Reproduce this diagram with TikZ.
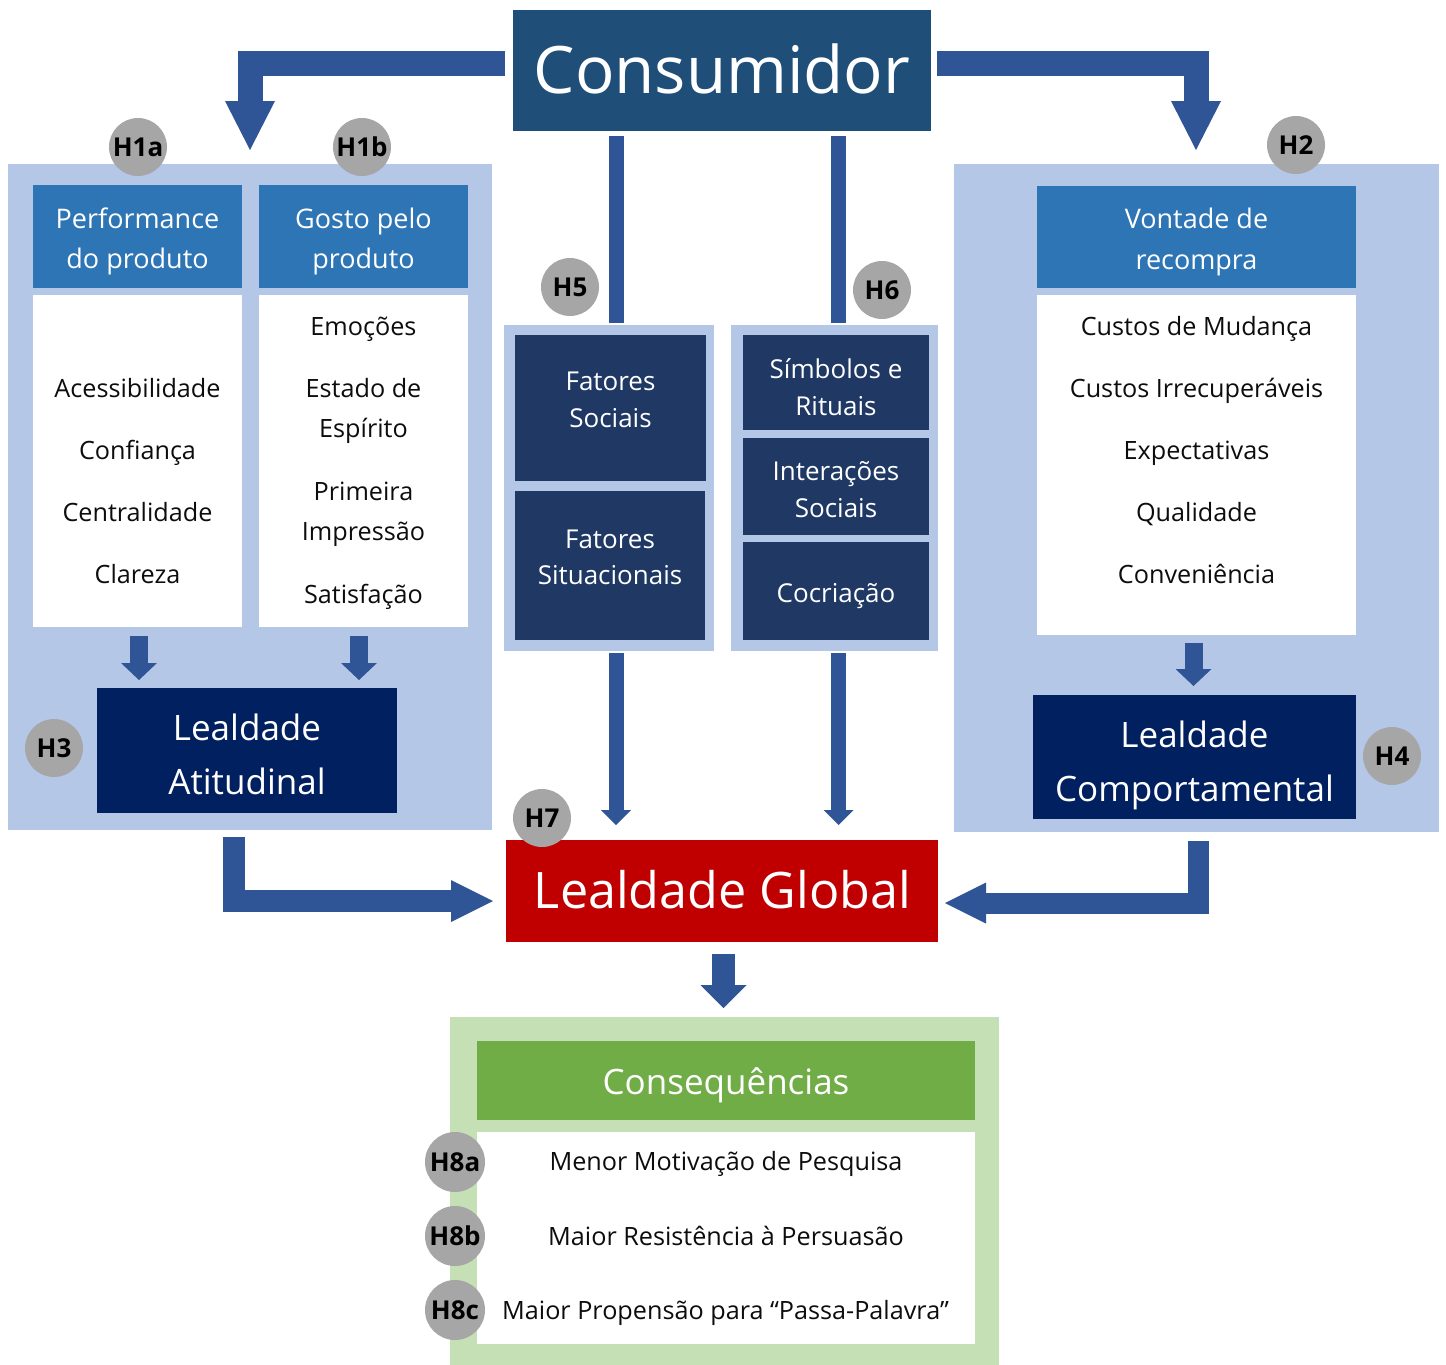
\documentclass[tikz,border=0pt]{standalone}
\usepackage{fontspec}
\setmainfont{Open Sans}
\usetikzlibrary{fit,calc,arrows.meta}
\definecolor{arrowblue}{HTML}{2F5597}
\definecolor{consblue}{HTML}{1F4E79}
\definecolor{panelblue}{HTML}{B4C7E7}
\definecolor{hdrblue}{HTML}{2E75B6}
\definecolor{navy}{HTML}{002060}
\definecolor{midnavy}{HTML}{203864}
\definecolor{loyred}{HTML}{C00000}
\definecolor{hgray}{HTML}{A6A6A6}
\definecolor{hgreen}{HTML}{70AD47}
\definecolor{lgreen}{HTML}{C5E0B4}
\definecolor{txtblack}{HTML}{0D0D0D}
\newcommand\fbody{\fontsize{25.2}{31}\selectfont}
\newcommand\fhdr{\fontsize{27}{33}\selectfont}
\newcommand\fcons{\fontsize{65.5}{80}\selectfont}
\newcommand\fglob{\fontsize{50.3}{60}\selectfont}
\newcommand\flea{\fontsize{35}{44}\selectfont}
\newcommand\fmid{\fontsize{26}{32}\selectfont}
\newcommand\fbot{\fontsize{25.2}{31}\selectfont}
\newcommand\fh{\bfseries\fontsize{26}{26}\selectfont}
\newcommand\bx[6]{\node[rbox, fill=#1, fit={(#3,#4) (#5,#6)}] (#2) {};}
\newcommand\txt[5]{\node[tline, #1] (#2) at (#3,#4) {#5};}
\begin{document}
\begin{tikzpicture}[x=1pt, y=-1pt,
  rbox/.style={inner sep=0pt, outer sep=0pt, draw=none, rectangle},
  tline/.style={anchor=base, inner sep=0pt, outer sep=0pt},
  wt/.style={text=white},
  bt/.style={text=txtblack},
  hc/.style={circle, fill=hgray, minimum size=58pt, inner sep=0pt, text=black, font=\fh},
  bigarr/.style={draw=arrowblue, line width=25pt, line join=miter, -{Triangle[length=49pt, width=50pt, line width=0pt]}},
  barS/.style={draw=arrowblue, line width=15pt},
  midarr/.style={draw=arrowblue, line width=15pt, -{Triangle[length=15pt, width=30pt, line width=0pt]}},
  smallarr/.style={draw=arrowblue, line width=18pt, -{Triangle[length=17pt, width=36pt, line width=0pt]}},
  blarr/.style={draw=arrowblue, line width=22pt, line join=miter, -{Triangle[length=42pt, width=42pt, line width=0pt]}},
  brarr/.style={draw=arrowblue, line width=21pt, line join=miter, -{Triangle[length=41pt, width=41pt, line width=0pt]}},
  downarr/.style={draw=arrowblue, line width=23pt, -{Triangle[length=23pt, width=46pt, line width=0pt]}}
]
\fill[white] (0,0) rectangle (1446,1365);
\useasboundingbox (0,0) rectangle (1446,1365);

% panels
\bx{panelblue}{lp}{8}{164}{492}{830}
\bx{panelblue}{rp}{954}{164}{1439}{832}
\bx{panelblue}{mlp}{504}{325}{714}{651}
\bx{panelblue}{mrp}{731}{325}{938}{651}
\bx{lgreen}{gp}{450}{1017}{999}{1365}

% boxes
\bx{consblue}{cons}{513}{10}{931}{131}
\bx{hdrblue}{perfh}{33}{185}{242}{288}
\bx{white}{perfw}{33}{295}{242}{627}
\bx{hdrblue}{gostoh}{259}{185}{468}{288}
\bx{white}{gostow}{259}{295}{468}{627}
\bx{navy}{atit}{97}{688}{397}{813}
\bx{midnavy}{fsoc}{515}{335}{706}{481}
\bx{midnavy}{fsit}{515}{491}{705}{640}
\bx{midnavy}{simb}{743}{335}{929}{430}
\bx{midnavy}{inter}{743}{438}{929}{535}
\bx{midnavy}{cocr}{743}{542}{929}{640}
\bx{hdrblue}{vont}{1037}{186}{1356}{288}
\bx{white}{vontw}{1037}{295}{1356}{635}
\bx{navy}{comp}{1033}{695}{1356}{819}
\bx{loyred}{glob}{506}{840}{938}{942}
\bx{hgreen}{consh}{477}{1041}{975}{1120}
\bx{white}{consw}{477}{1132}{975}{1344}

% texts
\txt{wt,font=\fcons}{tcons}{722}{93}{Consumidor}
\txt{wt,font=\fhdr}{tperf1}{137.5}{228}{Performance}
\txt{wt,font=\fhdr}{tperf2}{137.5}{268}{do produto}
\txt{wt,font=\fhdr}{tgos1}{363.5}{228}{Gosto pelo}
\txt{wt,font=\fhdr}{tgos2}{363.5}{268}{produto}
\txt{wt,font=\fhdr}{tvon1}{1196.5}{228}{Vontade de}
\txt{wt,font=\fhdr}{tvon2}{1196.5}{269}{recompra}

\txt{bt,font=\fbody}{ta1}{137.5}{397}{Acessibilidade}
\txt{bt,font=\fbody}{ta2}{137.5}{459}{Confiança}
\txt{bt,font=\fbody}{ta3}{137.5}{521}{Centralidade}
\txt{bt,font=\fbody}{ta4}{137.5}{583}{Clareza}

\txt{bt,font=\fbody}{tb1}{363.5}{335}{Emoções}
\txt{bt,font=\fbody}{tb2}{363.5}{397}{Estado de}
\txt{bt,font=\fbody}{tb3}{363.5}{437}{Espírito}
\txt{bt,font=\fbody}{tb4}{363.5}{500}{Primeira}
\txt{bt,font=\fbody}{tb5}{363.5}{540}{Impressão}
\txt{bt,font=\fbody}{tb6}{363.5}{603}{Satisfação}

\txt{bt,font=\fbody}{tc1}{1196.5}{335}{Custos de Mudança}
\txt{bt,font=\fbody}{tc2}{1196.5}{397}{Custos Irrecuperáveis}
\txt{bt,font=\fbody}{tc3}{1196.5}{459}{Expectativas}
\txt{bt,font=\fbody}{tc4}{1196.5}{521}{Qualidade}
\txt{bt,font=\fbody}{tc5}{1196.5}{583}{Conveniência}

\txt{wt,font=\flea}{tat1}{247}{740}{Lealdade}
\txt{wt,font=\flea}{tat2}{247}{794}{Atitudinal}
\txt{wt,font=\flea}{tco1}{1194.5}{747}{Lealdade}
\txt{wt,font=\flea}{tco2}{1194.5}{801}{Comportamental}

\txt{wt,font=\fmid}{tm1}{610.5}{390}{Fatores}
\txt{wt,font=\fmid}{tm2}{610.5}{427}{Sociais}
\txt{wt,font=\fmid}{tm3}{610}{548}{Fatores}
\txt{wt,font=\fmid}{tm4}{610}{584}{Situacionais}
\txt{wt,font=\fmid}{tm5}{836}{378}{Símbolos e}
\txt{wt,font=\fmid}{tm6}{836}{415}{Rituais}
\txt{wt,font=\fmid}{tm7}{836}{480}{Interações}
\txt{wt,font=\fmid}{tm8}{836}{517}{Sociais}
\txt{wt,font=\fmid}{tm9}{836}{602}{Cocriação}

\txt{wt,font=\fglob}{tglob}{722.5}{908}{Lealdade Global}
\txt{wt,font=\flea}{tconsq}{726}{1094}{Consequências}
\txt{bt,font=\fbot}{td1}{726}{1170}{Menor Motivação de Pesquisa}
\txt{bt,font=\fbot}{td2}{726}{1245}{Maior Resistência à Persuasão}
\txt{bt,font=\fbot}{td3}{725.5}{1319}{Maior Propensão para “Passa-Palavra”}

% connectors
\draw[bigarr] ($(cons.west)+(-8,-7)$) -| ($(lp.north west)+(242,-14)$);
\draw[bigarr] ($(cons.east)+(6,-7)$) -| ($(rp.north west)+(242,-14)$);
\draw[barS] ($(cons.south west)+(103,5)$) -- ($(mlp.north west)+(112,-2)$);
\draw[barS] ($(cons.south west)+(325.5,5)$) -- ($(mrp.north west)+(107.5,-2)$);
\draw[midarr] ($(mlp.south west)+(112,2)$) -- ($(glob.north west)+(110,-15)$);
\draw[midarr] ($(mrp.south west)+(107.5,2)$) -- ($(glob.north west)+(332.5,-15)$);
\draw[smallarr] ($(perfw.south)+(1.5,9)$) -- ($(atit.north west)+(42,-8)$);
\draw[smallarr] ($(gostow.south)+(-4.5,9)$) -- ($(atit.north west)+(262,-8)$);
\draw[smallarr] ($(vontw.south)+(-3,8)$) -- ($(comp.north west)+(160.5,-9)$);
\draw[blarr] ($(lp.south west)+(226,7)$) |- ($(glob.west)+(-13,10)$);
\draw[brarr] ($(rp.south west)+(244.5,9)$) |- ($(glob.east)+(7,12)$);
\draw[downarr] ($(glob.south)+(1.5,12)$) -- ($(gp.north)+(-1,-9)$);

% hypothesis badges
\node[hc] (h1a) at (138,147) {H1a};
\node[hc] (h1b) at (362,147) {H1b};
\node[hc] (h2) at (1296,145) {H2};
\node[hc] (h3) at (54,748) {H3};
\node[hc] (h4) at (1392,756) {H4};
\node[hc] (h5) at (570,287) {H5};
\node[hc] (h6) at (882,290) {H6};
\node[hc] (h7) at (542,818) {H7};
\node[hc, minimum size=60pt] (h8a) at (455,1162) {H8a};
\node[hc, minimum size=60pt] (h8b) at (455,1236) {H8b};
\node[hc, minimum size=60pt] (h8c) at (455,1310) {H8c};
\end{tikzpicture}
\end{document}
